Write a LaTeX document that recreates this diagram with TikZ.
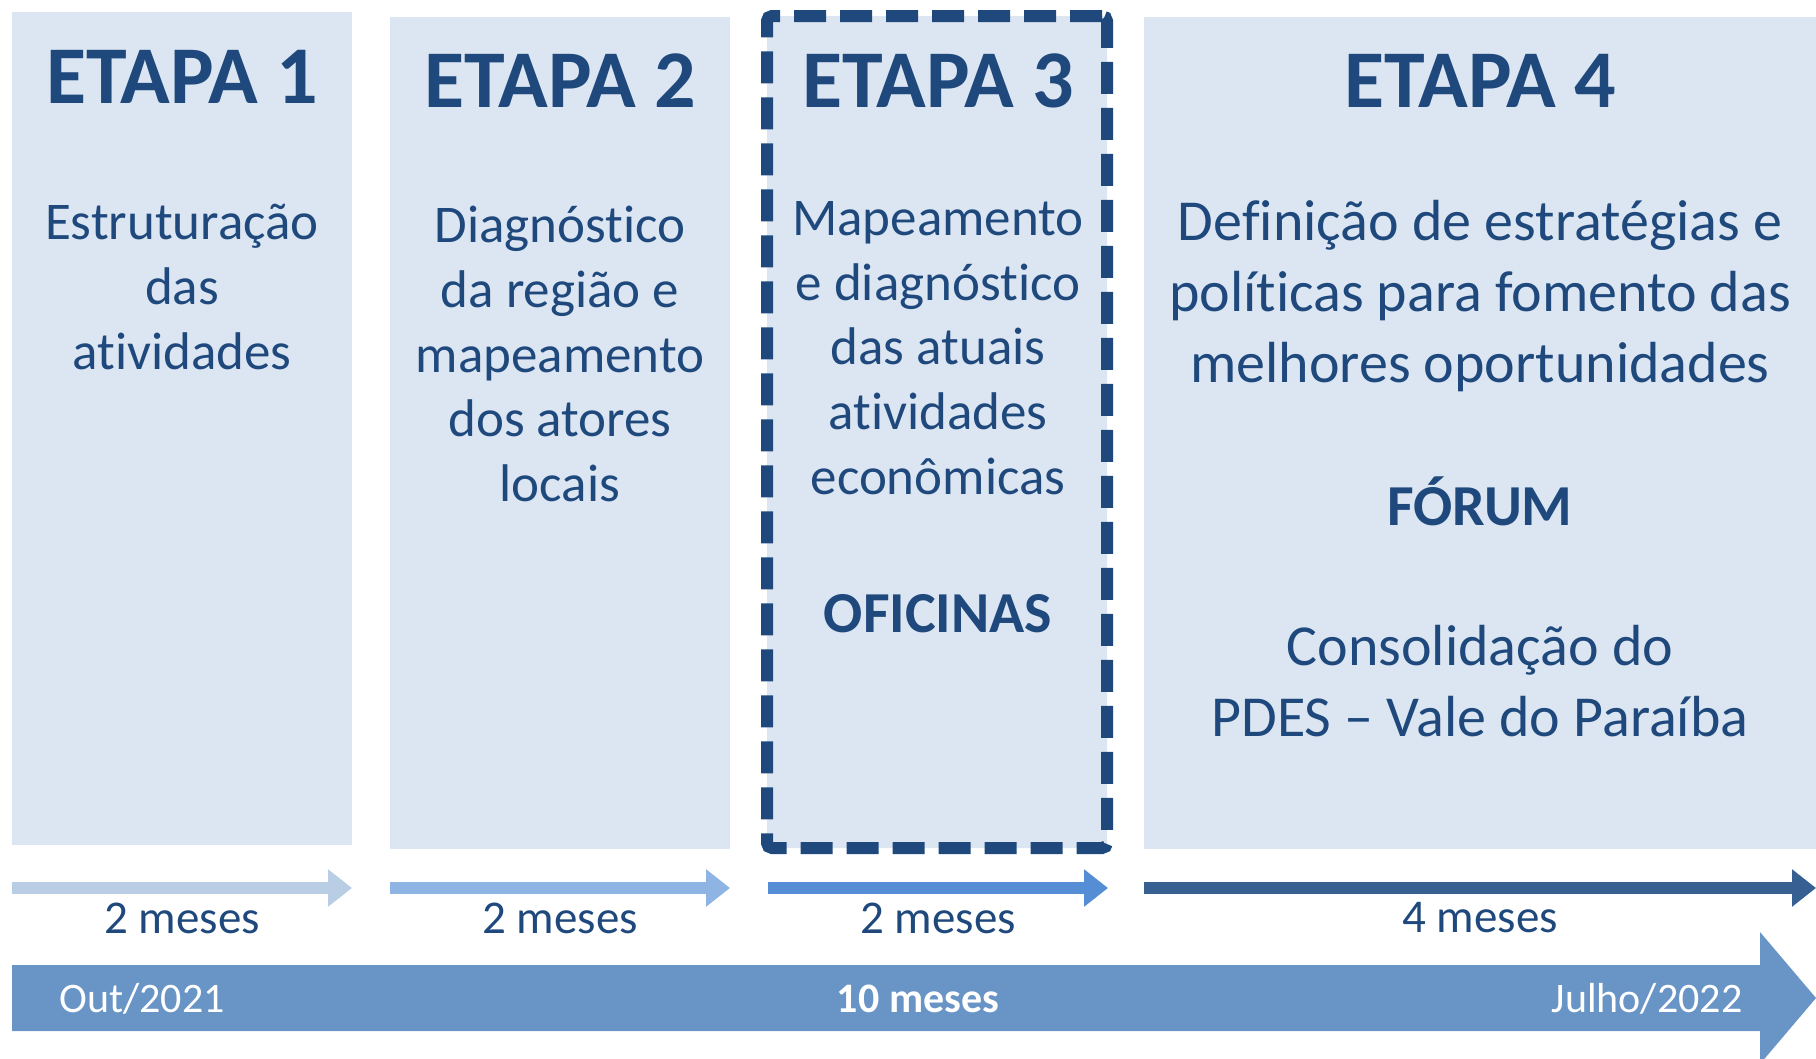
\documentclass[tikz,border=0pt]{standalone}
\usepackage{fontspec}
\setmainfont[Ligatures=NoCommon]{Carlito}
\usetikzlibrary{arrows.meta}
\definecolor{boxfill}{HTML}{DCE6F2}
\definecolor{navy}{HTML}{1F497D}
\definecolor{tl1}{HTML}{B9CDE5}
\definecolor{tl2}{HTML}{8EB4E3}
\definecolor{tl3}{HTML}{558ED5}
\definecolor{tl4}{HTML}{376092}
\definecolor{bigblue}{HTML}{6894C6}
\begin{document}
\begin{tikzpicture}[x=1pt,y=-1pt]
	\tikzstyle{etapa}=[fill=boxfill,inner sep=0pt,outer sep=0pt,anchor=north west]
	\tikzstyle{title}=[text=navy,font=\fontsize{82}{98}\selectfont\bfseries]
	\tikzstyle{body}=[text=navy,align=center,font=\fontsize{53}{64.6}\selectfont]
	\tikzstyle{bodybig}=[text=navy,align=center,font=\fontsize{58}{70.6}\selectfont]
	\tikzstyle{strong}=[text=navy,font=\fontsize{58}{70}\selectfont\bfseries]
	\tikzstyle{meses}=[text=navy,font=\fontsize{47}{56}\selectfont]
	\tikzstyle{tick}=[line width=12pt,-{Triangle[length=24pt,width=36pt]}]
	\tikzstyle{onarrow}=[text=white,font=\fontsize{42}{50}\selectfont]
	\useasboundingbox (0,0) rectangle (1816,1058);

	% boxes
	\node[etapa,minimum width=340pt,minimum height=833pt] (box1) at (12,12) {};
	\node[etapa,minimum width=340pt,minimum height=832pt] (box2) at (390,17) {};
	\node[etapa,draw=navy,line width=12pt,dash pattern=on 32pt off 14pt,rounded corners=5pt,
		minimum width=340pt,minimum height=832pt] (box3) at (767,16) {};
	\node[etapa,minimum width=672pt,minimum height=832pt] (box4) at (1144,17) {};

	\node[title] (t1) at (182,77) {ETAPA 1};
	\node[title] (t2) at (560,81) {ETAPA 2};
	\node[title] (t3) at (938,81) {ETAPA 3};
	\node[title] (t4) at (1480,81) {ETAPA 4};

	\node[body] (b1) at (182,287) {Estruturação\\das\\atividades};
	\node[body] (b2) at (560,354) {Diagnóstico\\da região e\\mapeamento\\dos atores\\locais};
	\node[body] (b3) at (938,348) {Mapeamento\\e diagnóstico\\das atuais\\atividades\\econômicas};
	\node[strong] (of) at (938,614) {OFICINAS};
	\node[bodybig] (b4) at (1480,296) {Definição de estratégias e\\políticas para fomento das\\melhores oportunidades};
	\node[strong] (fo) at (1480,501) {FÓRUM};
	\node[bodybig] (co) at (1480,681) {Consolidação do\\PDES -- Vale do Paraíba};

	% duration arrows
	\coordinate (s1) at (12,888);   \coordinate (e1) at (352,888);
	\coordinate (s2) at (390,888);  \coordinate (e2) at (730,888);
	\coordinate (s3) at (768,888);  \coordinate (e3) at (1108,888);
	\coordinate (s4) at (1144,888); \coordinate (e4) at (1816,888);
	\draw[tick,tl1] (s1) -- (e1);
	\draw[tick,tl2] (s2) -- (e2);
	\draw[tick,tl3] (s3) -- (e3);
	\draw[tick,tl4] (s4) -- (e4);

	\node[meses] (m1) at (182,918) {2 meses};
	\node[meses] (m2) at (560,918) {2 meses};
	\node[meses] (m3) at (938,918) {2 meses};
	\node[meses] (m4) at (1480,918) {4 meses};

	% timeline
	\fill[bigblue] (12,965) -- (1760,965) -- (1760,932) -- (1816,998) -- (1760,1064)
		-- (1760,1031) -- (12,1031) -- cycle;
	\node[onarrow] (out) at (142,999) {Out/2021};
	\node[onarrow,font=\fontsize{42}{50}\selectfont\bfseries] (tot) at (918,999) {10 meses};
	\node[onarrow] (jul) at (1647,999) {Julho/2022};
\end{tikzpicture}
\end{document}
